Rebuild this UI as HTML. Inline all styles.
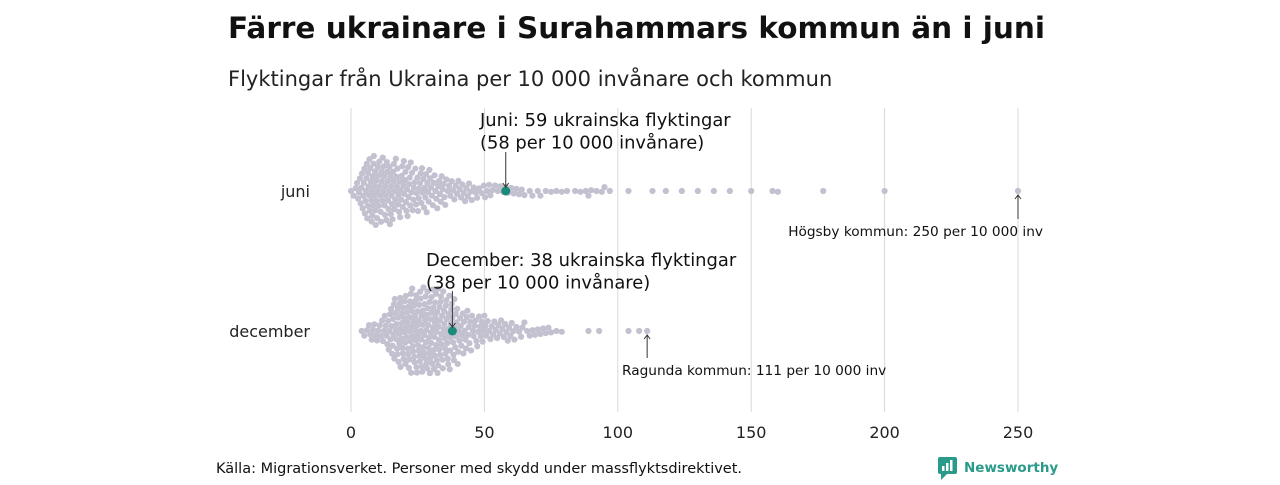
<!DOCTYPE html>
<html><head><meta charset="utf-8"><style>
body{margin:0;background:#fff;font-family:"Liberation Sans","DejaVu Sans",sans-serif}
svg text{font-family:"DejaVu Sans","Liberation Sans",sans-serif}
</style></head><body>
<svg id="c" width="1280" height="480">
<text x="228" y="38" font-size="29.5" font-weight="bold" fill="#111">Färre ukrainare i Surahammars kommun än i juni</text>
<text x="228" y="86" font-size="21" fill="#222">Flyktingar från Ukraina per 10 000 invånare och kommun</text>
<g id="grid"></g><g id="dots"></g><g id="ann"></g>
<text x="216" y="473" font-size="14.5" fill="#111">Källa: Migrationsverket. Personer med skydd under massflyktsdirektivet.</text>
<g>
<rect x="938" y="457" width="19" height="17" rx="2" fill="#2a9a8a"/><path d="M941 474 L941 480 L947 474Z" fill="#2a9a8a"/>
<rect x="942" y="466" width="2.5" height="5" fill="#fff"/><rect x="946" y="463" width="2.5" height="8" fill="#fff"/><rect x="950" y="460" width="2.5" height="11" fill="#fff"/>
<text x="964" y="472" font-size="13.5" font-weight="bold" fill="#2a9a8a">Newsworthy</text></g>
</svg>
<script>
const ticks=[0,50,100,150,200,250];
const juniCounts=[1,1,2,3,4,5,6,6,7,7,6,6,6,6,6,6,6,5,5,5,5,5,5,4,4,4,4,4,4,4,3,3,3,3,3,3,2,2,2,2,2,2,2,2,2,2,1,2,1,1,2,1,2,1,1,1,1,1,1,1,1,1,1,1,1,1,0,1,1,0,1,1,0,1,0,1,0,1,0,1,0,1,0,0,1,0,1,0,1,1,1,0,1,0,1,1,0,1,0,0];
const juniTail=[104,113,118,124,130,136,142,150,158,160,177,200,250];
const decCounts=[0,0,0,0,1,1,1,2,2,2,2,2,3,3,4,5,6,6,7,7,7,7,8,8,8,8,8,8,8,8,8,8,8,8,7,7,7,7,6,6,5,4,4,4,4,3,3,3,3,3,3,2,2,2,2,2,2,2,2,2,2,2,1,1,2,1,1,1,1,1,1,1,1,1,1,1,0,1,0,1,0,0,0,0,0,0,0,0,0,1,0,0,0,1,0,0,0,0,0,0];
const decTail=[104,108,111];
const rows=[{name:'juni',y:191,counts:juniCounts,tail:juniTail,hi:58},{name:'december',y:331,counts:decCounts,tail:decTail,hi:38}];
const NS='http://www.w3.org/2000/svg';
const X=v=>351+v*(1018-351)/250;
function mk(t,a,p){const e=document.createElementNS(NS,t);for(const k in a)e.setAttribute(k,a[k]);p.appendChild(e);return e;}
const grid=document.getElementById('grid'),dots=document.getElementById('dots'),ann=document.getElementById('ann');
ticks.forEach(t=>{
 const l=mk('line',{x1:X(t),x2:X(t),y1:108,y2:412,stroke:'#d8d8d8','stroke-width':1},grid);
 
 
 const tx=mk('text',{x:X(t),y:438,'font-size':16,'text-anchor':'middle',fill:'#222'},grid);
 tx.textContent=t;
 
 
});
const r=2.7,dr=3.1;
rows.forEach(row=>{
 const lb=mk('text',{x:310,y:row.y+6,'font-size':16,'text-anchor':'end',fill:'#222'},grid);
 lb.textContent=row.name;
 
 
 const vals=[];
 row.counts.forEach((c,v)=>{for(let i=0;i<c;i++)vals.push(v+(i+0.5)/Math.max(c,1)-0.5);});
 row.tail.forEach(v=>vals.push(v));
 vals.sort((a,b)=>a-b);
 const placed=[];
 vals.forEach(v=>{
  const x=X(v);const near=placed.filter(p=>Math.abs(p.x-x)<2*r);
  const cands=[0];
  near.forEach(p=>{const d=Math.sqrt(4*r*r-(p.x-x)**2);cands.push(p.y+d,p.y-d);});
  cands.sort((a,b)=>Math.abs(a)-Math.abs(b));
  let y=0;for(const c of cands){if(near.every(p=>(p.x-x)**2+(p.y-c)**2>=4*r*r-0.01)){y=c;break;}}
  placed.push({x,y});
  const d=mk('circle',{cx:x,cy:row.y+y,r:dr,fill:'#c3c0cf'},dots);
  
  
 });
 const h=mk('circle',{cx:X(row.hi),cy:row.y,r:4.5,fill:'#1a8a7a'},dots);
 
 
});
function note(lines,x,y,fs,name,anchor){
 const t=mk('text',{x:x,y:y,'font-size':fs,fill:'#111','text-anchor':anchor||'start'},ann);
 
 
 lines.forEach((s,i)=>{const ts=mk('tspan',{x:x,dy:i?fs*1.25:0},t);ts.textContent=s;});
}
function arrow(x,y1,y2,name){
 const g=mk('g',{},ann);
 
 
 mk('line',{x1:x,x2:x,y1:y1,y2:y2,stroke:'#333','stroke-width':1},g);
 const s=y2>y1?-1:1;
 mk('path',{d:`M${x-3} ${y2+4*s} L${x} ${y2} L${x+3} ${y2+4*s}`,fill:'none',stroke:'#333'},g);
}
note(['Juni: 59 ukrainska flyktingar','(58 per 10 000 invånare)'],480,126,17.9,'juni-annotation');
arrow(X(58),152,187,'juni-arrow');
note(['December: 38 ukrainska flyktingar','(38 per 10 000 invånare)'],426,266,17.9,'december-annotation');
arrow(X(38),291,327,'december-arrow');
note(['Högsby kommun: 250 per 10 000 inv'],1043,236,13.7,'hogsby-annotation','end');
arrow(X(250),219,195,'hogsby-arrow');
note(['Ragunda kommun: 111 per 10 000 inv'],622,375,13.7,'ragunda-annotation');
arrow(X(111),358,335,'ragunda-arrow');
</script>
</body></html>
